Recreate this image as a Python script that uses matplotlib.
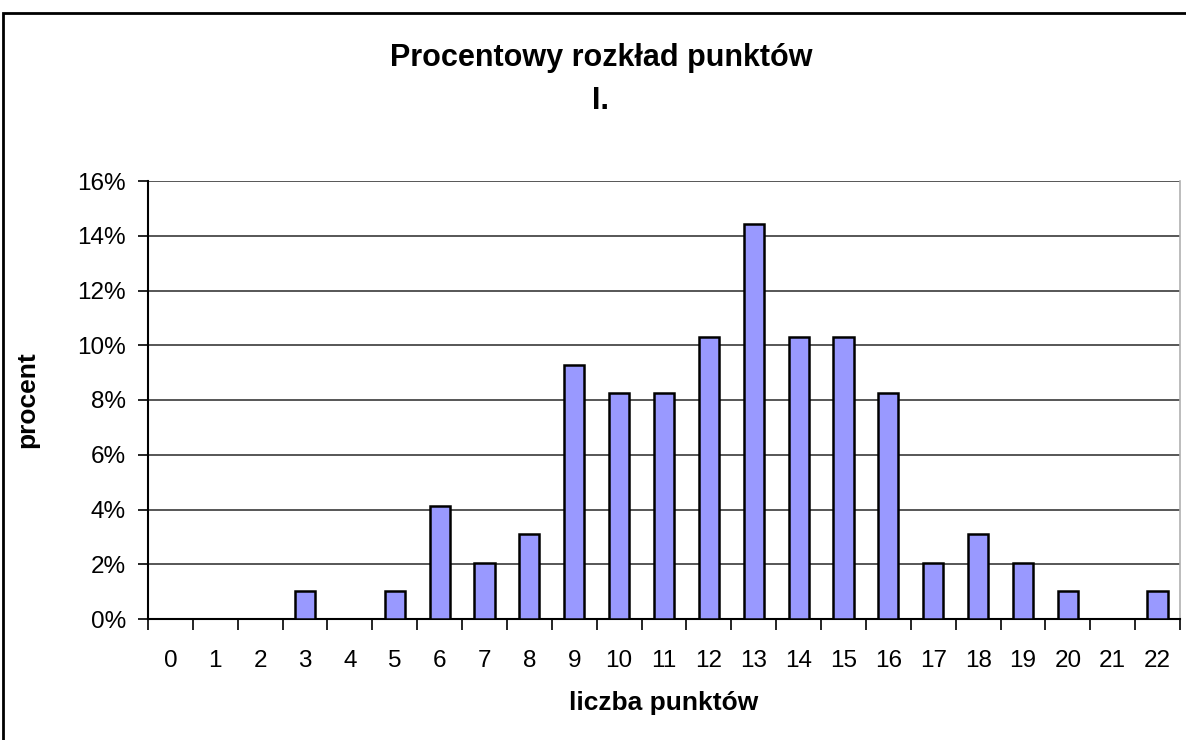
import matplotlib
matplotlib.use("Agg")
import matplotlib.pyplot as plt
from matplotlib.ticker import FuncFormatter, FixedLocator
from matplotlib.patches import Rectangle

points = list(range(23))
counts = [0, 0, 0, 1, 0, 1, 4, 2, 3, 9, 8, 8, 10, 14, 10, 10, 8, 2, 3, 2, 1, 0, 1]
total = sum(counts)
percent = [c / total * 100 for c in counts]
yticks = [0, 2, 4, 6, 8, 10, 12, 14, 16]

plt.rcParams['font.family'] = ['Liberation Sans', 'DejaVu Sans']

W, H = 1186, 740
fig = plt.figure(figsize=(W / 100, H / 100), dpi=100)
ax = fig.add_axes([148 / W, 1 - 619 / H, (1180 - 148) / W, (619 - 181) / H])

fig.patches.append(Rectangle((3 / W, -0.1), 1.2, 1 - 13 / H + 0.1,
                             transform=fig.transFigure, fill=False,
                             edgecolor='black', linewidth=2, clip_on=False))

ax.bar(points, percent, width=0.45, color='#9999FF', edgecolor='black',
       linewidth=1.8, zorder=3)

ax.set_xlim(-0.5, 22.5)
ax.set_ylim(0, 16)
ax.set_yticks(yticks)
ax.yaxis.set_major_formatter(FuncFormatter(lambda v, p: f"{v:.0f}%"))
ax.grid(axis='y', color='#3a3a3a', linewidth=1.2, zorder=0)
ax.set_xticks(points)
ax.set_xticklabels([str(p) for p in points])
ax.xaxis.set_minor_locator(FixedLocator([i - 0.5 for i in range(24)]))
ax.tick_params(axis='x', which='major', length=0, pad=22, labelsize=17.5)
ax.tick_params(axis='x', which='minor', length=8, width=1.2, direction='out')
ax.tick_params(axis='y', length=7, width=1.2, direction='out', labelsize=17.5, pad=9)

ax.spines['top'].set_visible(False)
ax.spines['right'].set_color('#b0b0b0')
ax.spines['right'].set_linewidth(1.2)
for s in ['left', 'bottom']:
    ax.spines[s].set_linewidth(1.5)

ax.set_xlabel('liczba punktów', fontsize=19, fontweight='bold', labelpad=14)
ax.set_ylabel('procent', fontsize=19, fontweight='bold')
ax.yaxis.set_label_coords(-(148 - 39) / (1180 - 148), 0.5)

fig.text(601 / W, 1 - 58 / H, 'Procentowy rozkład punktów', ha='center', va='center',
         fontsize=22, fontweight='bold')
fig.text(601 / W, 1 - 101 / H, 'I.', ha='center', va='center',
         fontsize=22, fontweight='bold')

fig.savefig('out.png', dpi=100)
